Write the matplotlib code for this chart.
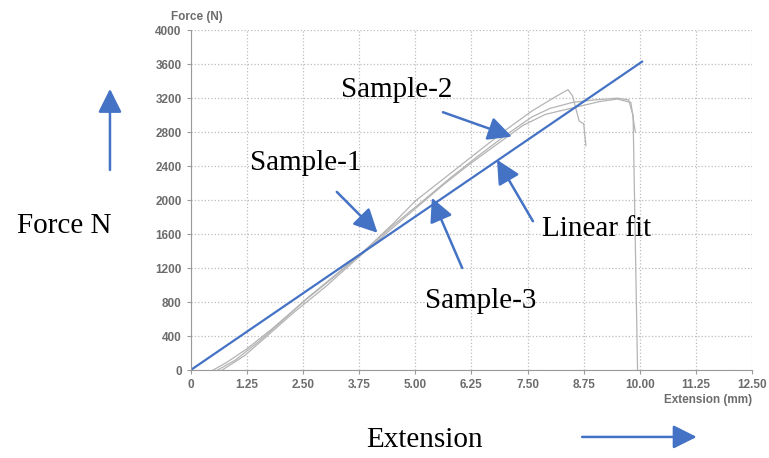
import numpy as np
import matplotlib
matplotlib.use('Agg')
import matplotlib.pyplot as plt

# extension (mm) / force (N)
s1_x = [0.5, 0.8, 1.25, 1.8, 2.5, 3.2, 3.8, 4.5, 5.0, 5.7, 6.3, 7.0, 7.6, 8.1, 8.4, 8.5, 8.65, 8.75, 8.8]
s1_y = [0, 90, 250, 480, 800, 1100, 1370, 1720, 1990, 2280, 2530, 2820, 3050, 3210, 3300, 3230, 2930, 2900, 2640]

s2_x = [0.6, 1.0, 1.5, 2.0, 2.6, 3.2, 3.9, 4.5, 5.1, 5.8, 6.4, 7.0, 7.6, 8.0, 8.5, 9.0, 9.5, 9.75, 9.85, 9.9, 9.95]
s2_y = [0, 120, 330, 560, 850, 1110, 1420, 1700, 1960, 2270, 2520, 2760, 2980, 3080, 3150, 3180, 3200, 3180, 3000, 1500, 0]

s3_x = [0.7, 1.2, 1.7, 2.3, 3.0, 3.7, 4.4, 5.0, 5.6, 6.2, 6.8, 7.4, 7.9, 8.3, 8.7, 9.1, 9.5, 9.8, 9.9]
s3_y = [0, 170, 400, 680, 980, 1310, 1630, 1900, 2170, 2420, 2650, 2880, 3010, 3060, 3110, 3160, 3190, 3150, 2800]

fit_x = [0, 10.05]
fit_y = [0, 3630]

xticks = [0, 1.25, 2.50, 3.75, 5.00, 6.25, 7.50, 8.75, 10.00, 11.25, 12.50]
yticks = list(range(0, 4001, 400))

blue = '#4472c4'
tick_grey = '#6c6c6c'

fig = plt.figure(figsize=(7.69, 4.58), dpi=100)
ax = fig.add_axes([0.248, 0.192, 0.730, 0.742])

for xs, ys in [(s1_x, s1_y), (s2_x, s2_y), (s3_x, s3_y)]:
    ax.plot(xs, ys, color='#b4b4b4', lw=0.9)
ax.plot(fit_x, fit_y, color=blue, lw=1.6)

ax.set_xlim(0, 12.5)
ax.set_ylim(0, 4000)
ax.set_xticks(xticks)
ax.set_xticklabels(['0'] + ['%.2f' % v for v in xticks[1:]])
ax.set_yticks(yticks)
ax.grid(True, ls=':', color='#bdbdbd', lw=0.9)
for sp in ['top', 'right']:
    ax.spines[sp].set_visible(False)
for sp in ['left', 'bottom']:
    ax.spines[sp].set_color('#9a9a9a')
ax.tick_params(colors='#9a9a9a', length=3, labelcolor=tick_grey)
for lab in ax.get_xticklabels() + ax.get_yticklabels():
    lab.set_fontfamily('Liberation Sans')
    lab.set_fontweight('bold')
    lab.set_fontsize(8.5)

fig.text(0.222, 0.962, 'Force (N)', family='Liberation Sans', weight='bold',
         size=8.5, color=tick_grey, ha='left', va='center')
fig.text(0.978, 0.127, 'Extension (mm)', family='Liberation Sans', weight='bold',
         size=8.5, color=tick_grey, ha='right', va='center')

serif = dict(family='Liberation Serif', size=21, color='black')
fig.text(0.397, 0.645, 'Sample-1', ha='center', va='center', **serif)
fig.text(0.516, 0.803, 'Sample-2', ha='center', va='center', **serif)
fig.text(0.776, 0.500, 'Linear fit', ha='center', va='center', **serif)
fig.text(0.625, 0.343, 'Sample-3', ha='center', va='center', **serif)
fig.text(0.083, 0.507, 'Force N', ha='center', va='center', **serif)
fig.text(0.552, 0.040, 'Extension', ha='center', va='center', **serif)

arrow = dict(arrowstyle='-|>,head_length=0.8,head_width=0.4', color=blue, lw=1.8,
             mutation_scale=18, shrinkA=0, shrinkB=0)
ax.annotate('', xy=(4.16, 1615), xytext=(0.438, 0.581), textcoords='figure fraction', arrowprops=arrow)
ax.annotate('', xy=(7.15, 2748), xytext=(0.576, 0.755), textcoords='figure fraction', arrowprops=arrow)
ax.annotate('', xy=(6.82, 2476), xytext=(0.693, 0.517), textcoords='figure fraction', arrowprops=arrow)
ax.annotate('', xy=(5.37, 2028), xytext=(0.601, 0.415), textcoords='figure fraction', arrowprops=arrow)

fig.add_artist(matplotlib.patches.FancyArrowPatch((0.143, 0.629), (0.143, 0.806), transform=fig.transFigure,
               **arrow))
fig.add_artist(matplotlib.patches.FancyArrowPatch((0.757, 0.046), (0.906, 0.046), transform=fig.transFigure,
               **arrow))

fig.savefig('out.png', dpi=100)
